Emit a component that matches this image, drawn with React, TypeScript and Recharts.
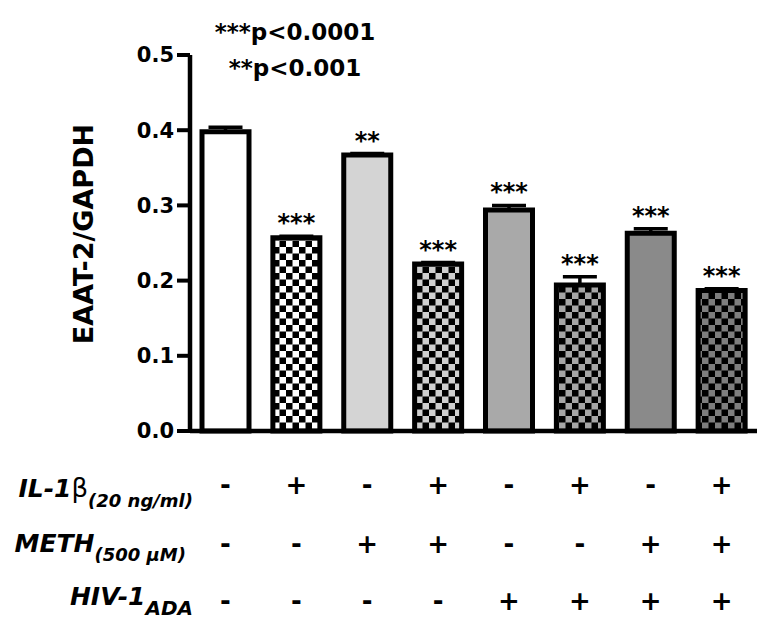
import { BarChart, Bar, XAxis, YAxis, Cell, ErrorBar, LabelList } from 'recharts';

// treatment groups, left to right
const groups = ['Control', 'IL-1b', 'METH', 'IL-1b+METH', 'HIV-1', 'HIV-1+IL-1b', 'HIV-1+METH', 'HIV-1+IL-1b+METH'];
// EAAT-2/GAPDH ratio and SEM
const eaatRatio = [0.398, 0.257, 0.367, 0.222, 0.294, 0.194, 0.263, 0.187];
const sem = [0.006, 0.002, 0.002, 0.002, 0.006, 0.011, 0.006, 0.002];
const stars = ['', '***', '**', '***', '***', '***', '***', '***'];
// treatment table under the x axis
const il1b = ['-', '+', '-', '+', '-', '+', '-', '+'];
const meth = ['-', '-', '+', '+', '-', '-', '+', '+'];
const hiv = ['-', '-', '-', '-', '+', '+', '+', '+'];
const yTicks = [0, 0.1, 0.2, 0.3, 0.4, 0.5];

const barFills = [
  '#ffffff',
  'url(#chk0)',
  '#d4d4d4',
  'url(#chk1)',
  '#a9a9a9',
  'url(#chk2)',
  '#8a8a8a',
  'url(#chk3)',
];
const checkerLight = ['#ffffff', '#cfcfcf', '#a6a6a6', '#7e7e7e'];

const data = groups.map((g, i) => ({
  group: g,
  value: eaatRatio[i],
  err: [0, sem[i]],
  stars: stars[i],
  il: il1b[i],
  meth: meth[i],
  hiv: hiv[i],
}));

const FONT = 'DejaVu Sans';

const SignTick = (props: any) => {
  const { x, y, payload } = props;
  const d = data.find((r) => r.group === payload.value);
  if (!d) return null;
  const st = { fontFamily: FONT, fontWeight: 'bold', fontSize: 26, fill: '#000' } as any;
  return (
    <g>
      <text x={x} y={y + 63} textAnchor="middle" style={st}>{d.il}</text>
      <text x={x} y={y + 122} textAnchor="middle" style={st}>{d.meth}</text>
      <text x={x} y={y + 179} textAnchor="middle" style={st}>{d.hiv}</text>
    </g>
  );
};

const StarLabel = (props: any) => {
  const vb = props.viewBox ?? props;
  const { x, y, width, height } = vb;
  const [s, e, v] = String(props.value).split('|');
  if (!s) return null;
  const pxPerUnit = height / Number(v);
  const capY = y - Number(e) * pxPerUnit;
  return (
    <text
      x={x + width / 2}
      y={capY - 5}
      textAnchor="middle"
      style={{ fontFamily: FONT, fontWeight: 'bold', fontSize: 24, fill: '#000' }}
    >
      {s}
    </text>
  );
};

const rowLabel = { fontFamily: FONT, fontWeight: 'bold', fontStyle: 'italic', fill: '#000' } as any;

export default function App() {
  return (
    <div style={{ position: 'absolute', left: 0, top: 0, background: '#fff' }}>
      <BarChart
        width={767}
        height={628}
        data={data}
        margin={{ top: 55, right: 10, bottom: 0, left: 0 }}
        barSize={47}
      >
        <defs>
          {checkerLight.map((c, i) => (
            <pattern key={i} id={`chk${i}`} width="13" height="13" patternUnits="userSpaceOnUse">
              <rect width="13" height="13" fill={c} />
              <rect x="0" y="0" width="6.5" height="6.5" fill="#000" />
              <rect x="6.5" y="6.5" width="6.5" height="6.5" fill="#000" />
            </pattern>
          ))}
        </defs>
        <XAxis
          dataKey="group"
          height={197}
          interval={0}
          tickLine={false}
          tickSize={0}
          tickMargin={0}
          axisLine={{ stroke: '#000', strokeWidth: 4.5 }}
          tick={SignTick}
        />
        <YAxis
          width={190}
          domain={[0, 0.5]}
          ticks={yTicks}
          tickFormatter={(v: number) => v.toFixed(1)}
          tickSize={13}
          tickMargin={3}
          axisLine={{ stroke: '#000', strokeWidth: 4.5 }}
          tickLine={{ stroke: '#000', strokeWidth: 4 }}
          tick={{ fill: '#000', fontSize: 21, fontWeight: 'bold', fontFamily: FONT }}
        />
        <Bar dataKey="value" isAnimationActive={false} stroke="#000" strokeWidth={5}>
          {data.map((d, i) => (
            <Cell key={d.group} fill={barFills[i]} />
          ))}
          <ErrorBar dataKey="err" width={17} strokeWidth={3.5} stroke="#000" />
          <LabelList
            dataKey={(d: any) => `${d.stars}|${d.err[1]}|${d.value}`}
            content={StarLabel}
          />
        </Bar>

        <text transform="translate(93,234) rotate(-90)" textAnchor="middle"
          style={{ fontFamily: FONT, fontWeight: 'bold', fontSize: 27, fill: '#000' }}>
          EAAT-2/GAPDH
        </text>

        <text x={295} y={40} textAnchor="middle"
          style={{ fontFamily: FONT, fontWeight: 'bold', fontSize: 23, fill: '#000' }}>
          ***p&lt;0.0001
        </text>
        <text x={295} y={76} textAnchor="middle"
          style={{ fontFamily: FONT, fontWeight: 'bold', fontSize: 23, fill: '#000' }}>
          **p&lt;0.001
        </text>

        <text x={193} y={497} textAnchor="end" style={rowLabel}>
          <tspan fontSize={25}>IL-1</tspan>
          <tspan fontSize={26} fontWeight="normal" fontStyle="normal">β</tspan>
          <tspan fontSize={18} dy={10}>(20 ng/ml)</tspan>
        </text>
        <text x={186} y={552} textAnchor="end" style={rowLabel}>
          <tspan fontSize={25}>METH</tspan>
          <tspan fontSize={18} dy={9}>(500 μM)</tspan>
        </text>
        <text x={193} y={605} textAnchor="end" style={rowLabel}>
          <tspan fontSize={25}>HIV-1</tspan>
          <tspan fontSize={20} dy={10}>ADA</tspan>
        </text>
      </BarChart>
    </div>
  );
}
